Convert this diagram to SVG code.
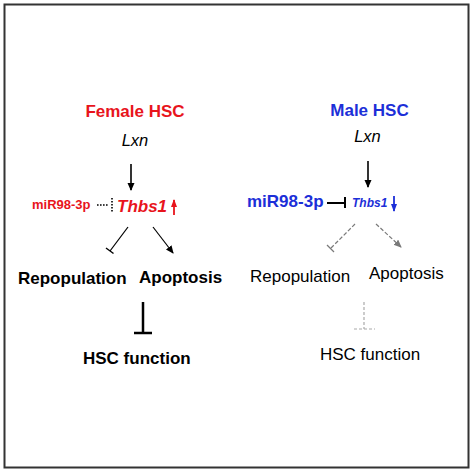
<svg xmlns="http://www.w3.org/2000/svg" width="474" height="472" viewBox="0 0 474 472">
<defs>
<style>
text{font-family:"Liberation Sans",Arial,sans-serif;}
.b{font-weight:bold;}
.i{font-style:italic;}
.red{fill:#e8141c;}
.blue{fill:#1c2fd8;}
.blk{fill:#000;}
.ln{stroke:#000;stroke-width:1.6;fill:none;}
.gd{stroke:#7a7a7a;stroke-width:1.2;fill:none;stroke-dasharray:4 2;}
.gl{stroke:#aaaaaa;stroke-width:1.2;fill:none;stroke-dasharray:3 2;}
</style>
<marker id="ab" markerWidth="8" markerHeight="8" refX="7" refY="3.5" orient="auto" markerUnits="userSpaceOnUse"><path d="M0,0 L8,3.5 L0,7 Z" fill="#000"/></marker>
<marker id="ar" markerWidth="8" markerHeight="8" refX="7" refY="3" orient="auto" markerUnits="userSpaceOnUse"><path d="M0,0 L8,3 L0,6 Z" fill="#e8141c"/></marker>
<marker id="au" markerWidth="8" markerHeight="8" refX="7" refY="3" orient="auto" markerUnits="userSpaceOnUse"><path d="M0,0 L8,3 L0,6 Z" fill="#1c2fd8"/></marker>
<marker id="ag" markerWidth="8" markerHeight="8" refX="7" refY="3.5" orient="auto" markerUnits="userSpaceOnUse"><path d="M0,0 L8,3.5 L0,7 Z" fill="#7a7a7a"/></marker>
</defs>
<rect x="0" y="0" width="474" height="472" fill="#fff"/>
<rect x="4.5" y="4.5" width="464" height="463" fill="none" stroke="#333" stroke-width="2"/>

<g id="female-hsc"><text x="135" y="117" text-anchor="middle" font-size="17" class="b red">Female HSC</text></g>
<g id="female-lxn"><text x="135" y="146" text-anchor="middle" font-size="16.5" class="i blk">Lxn</text></g>
<g id="female-mir"><text x="32" y="209" font-size="13" class="b red">miR98-3p</text></g>
<g id="female-thbs1"><text x="117" y="212" font-size="17" class="b i red">Thbs1</text></g>
<g id="female-repop"><text x="18" y="284" font-size="17" class="b blk">Repopulation</text></g>
<g id="female-apop"><text x="139" y="283" font-size="17" class="b blk">Apoptosis</text></g>
<g id="female-func"><text x="83" y="364" font-size="17" class="b blk">HSC function</text></g>

<g id="male-hsc"><text x="369.5" y="116" text-anchor="middle" font-size="17" class="b blue">Male HSC</text></g>
<g id="male-lxn"><text x="367.5" y="142" text-anchor="middle" font-size="16.5" class="i blk">Lxn</text></g>
<g id="male-mir"><text x="247" y="207" font-size="17" class="b blue">miR98-3p</text></g>
<g id="male-thbs1"><text x="352" y="207" font-size="12" class="b i blue">Thbs1</text></g>
<g id="male-repop"><text x="250" y="282" font-size="17" class="blk">Repopulation</text></g>
<g id="male-apop"><text x="369" y="279" font-size="17" class="blk">Apoptosis</text></g>
<g id="male-func"><text x="320" y="360" font-size="17" class="blk">HSC function</text></g>

<g id="connectors">
<!-- female -->
<line x1="131" y1="164" x2="131" y2="190" class="ln" marker-end="url(#ab)"/>
<line x1="97" y1="205" x2="109" y2="205" stroke="#000" stroke-width="1.6" stroke-dasharray="1.6 1.4"/>
<line x1="112" y1="198" x2="112" y2="213" stroke="#000" stroke-width="1.6" stroke-dasharray="1.6 1.4"/>
<line x1="174" y1="215" x2="174" y2="200" stroke="#e8141c" stroke-width="1.8" marker-end="url(#ar)"/>
<line x1="128" y1="227" x2="110" y2="251" stroke="#000" stroke-width="1.2"/>
<line x1="106" y1="248" x2="113.5" y2="253.5" stroke="#000" stroke-width="1.4"/>
<line x1="153" y1="227" x2="173" y2="253" stroke="#000" stroke-width="1.2" marker-end="url(#ab)"/>
<line x1="143" y1="302" x2="143" y2="333" stroke="#000" stroke-width="2.5"/>
<line x1="134" y1="333" x2="152" y2="333" stroke="#000" stroke-width="2.5"/>
<!-- male -->
<line x1="368" y1="161" x2="368" y2="187" class="ln" marker-end="url(#ab)"/>
<line x1="327" y1="203" x2="345" y2="203" stroke="#000" stroke-width="2"/>
<line x1="345" y1="197" x2="345" y2="208" stroke="#000" stroke-width="2"/>
<line x1="394" y1="196" x2="394" y2="211" stroke="#1c2fd8" stroke-width="1.8" marker-end="url(#au)"/>
<line x1="355" y1="224" x2="331" y2="248" class="gd"/>
<line x1="327" y1="245" x2="334" y2="252" stroke="#7a7a7a" stroke-width="1.2"/>
<line x1="376" y1="224" x2="401" y2="247" class="gd" marker-end="url(#ag)"/>
<line x1="364" y1="302" x2="364" y2="329" class="gl"/>
<line x1="354" y1="329" x2="375" y2="329" class="gl"/>
</g>
</svg>
